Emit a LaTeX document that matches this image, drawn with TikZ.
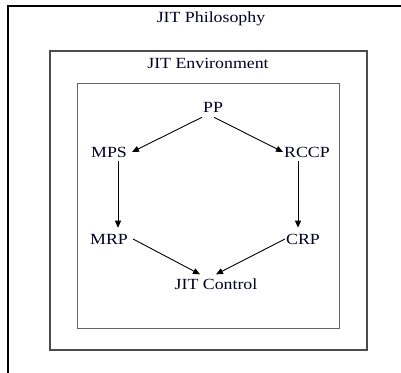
\documentclass[tikz,border=0pt]{standalone}
\usepackage{fontspec}
\setmainfont{Liberation Serif}[FakeStretch=1.15]
\usetikzlibrary{arrows.meta}
\begin{document}
\begin{tikzpicture}[x=1pt,y=-1pt,
  lbl/.style={font=\fontsize{15.5}{18}\selectfont, text=black!85!blue, inner sep=1pt},
  arr/.style={line width=0.9pt, -{Triangle[length=7pt,width=6pt]}},
  outerbox/.style={line width=1.3pt, draw=black},
  midbox/.style={line width=1.1pt, draw=black!70},
  innerbox/.style={line width=1pt, draw=black!60}]
\useasboundingbox (0,0) rectangle (401,372);
\fill[white] (0,0) rectangle (401,372);
% boxes
\draw[outerbox] (8,380) -- (8,6) -- (410,6);
\draw[midbox] (50,51) rectangle (367,350);
\draw[innerbox] (77,83) rectangle (339,328);
% labels
\node[lbl] (phil) at (211,19) {JIT Philosophy};
\node[lbl] (env) at (208,63) {JIT Environment};
\node[lbl] (pp) at (213,107) {PP};
\node[lbl] (mps) at (109,152) {MPS};
\node[lbl] (rccp) at (307,152) {RCCP};
\node[lbl] (mrp) at (109,239) {MRP};
\node[lbl] (crp) at (303,239) {CRP};
\node[lbl] (jit) at (216,284) {JIT Control};
% connectors
\draw[arr] ([xshift=-11pt,yshift=-4pt]pp.south) -- ([xshift=4pt]mps.east);
\draw[arr] ([xshift=1pt,yshift=-4pt]pp.south) -- (rccp.west);
\draw[arr] ([xshift=9pt,yshift=-3pt]mps.south) -- ([xshift=9pt,yshift=5pt]mrp.north);
\draw[arr] ([xshift=-9pt,yshift=-3pt]rccp.south) -- ([xshift=-5pt,yshift=5pt]crp.north);
\draw[arr] ([xshift=4pt]mrp.east) -- ([xshift=-16pt,yshift=3pt]jit.north);
\draw[arr] (crp.west) -- ([yshift=3pt]jit.north);
\end{tikzpicture}
\end{document}
